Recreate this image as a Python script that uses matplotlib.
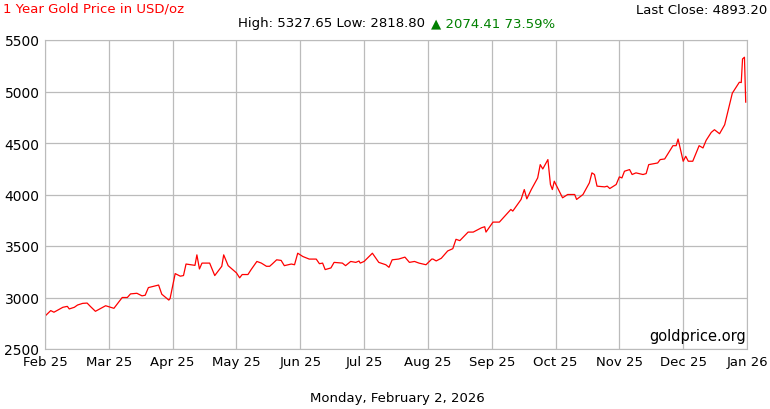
import matplotlib
matplotlib.use("Agg")
import matplotlib.pyplot as plt

months = [0.01,0.09,0.14,0.28,0.35,0.38,0.46,0.51,0.59,0.66,0.71,0.79,0.95,1.08,1.21,1.29,1.34,1.44,1.52,1.57,1.62,1.78,1.83,1.94,1.96,2.04,2.12,2.17,2.21,2.35,2.38,2.42,2.46,2.58,2.66,2.77,2.80,2.87,3.00,3.05,3.09,3.18,3.23,3.32,3.39,3.47,3.52,3.56,3.63,3.70,3.75,3.86,3.91,3.96,4.04,4.14,4.25,4.30,4.35,4.39,4.48,4.53,4.66,4.71,4.79,4.87,4.92,4.94,5.00,5.13,5.23,5.34,5.39,5.44,5.54,5.64,5.71,5.79,5.86,5.97,6.06,6.08,
          6.13,6.21,6.31,6.39,6.44,6.50,6.63,6.71,6.84,6.89,6.91,7.02,7.12,7.30,7.33,7.46,7.51,7.55,7.62,7.72,7.76,7.80,7.88,7.92,7.95,7.98,8.11,8.19,8.30,8.33,8.43,8.53,8.57,8.61,8.65,8.77,8.81,8.85,8.95,9.00,9.04,9.08,9.16,9.20,9.26,9.37,9.42,9.46,9.60,9.64,9.71,9.84,9.89,9.92,10.00,10.04,10.08,10.15,10.25,10.31,10.36,10.44,10.49,10.57,10.65,10.77,10.88,10.91,10.93,10.96,10.98]
prices = [2825,2873,2857,2905,2914,2889,2905,2927,2943,2946,2914,2866,2920,2895,3000,3000,3035,3041,3016,3022,3096,3121,3032,2975,2990,3232,3207,3213,3325,3312,3414,3277,3334,3334,3213,3303,3414,3309,3239,3191,3223,3223,3271,3350,3334,3303,3303,3325,3366,3360,3309,3325,3318,3430,3398,3373,3373,3328,3334,3271,3287,3341,3334,3309,3350,3341,3354,3334,3350,3430,3341,3318,3293,3366,3373,3392,3341,3350,3334,3318,3373,3373,
          3355,3381,3452,3474,3565,3552,3635,3635,3677,3687,3635,3732,3732,3855,3839,3952,4048,3958,4048,4161,4290,4248,4339,4097,4048,4129,3968,4000,4000,3952,4000,4113,4210,4194,4081,4074,4081,4058,4097,4171,4161,4226,4242,4194,4210,4194,4203,4290,4306,4339,4345,4474,4474,4539,4323,4371,4323,4323,4474,4452,4526,4603,4629,4590,4677,4984,5090,5087,5316,5333,4897]
tick_labels = ["Feb 25","Mar 25","Apr 25","May 25","Jun 25","Jul 25","Aug 25","Sep 25","Oct 25","Nov 25","Dec 25","Jan 26"]
yticks = [2500,3000,3500,4000,4500,5000,5500]

fig = plt.figure(figsize=(7.7,4.1), dpi=100)
ax = fig.add_axes([45/770, 60/410, 702/770, 309/410])
ax.plot(months, prices, color="red", lw=0.9)
ax.set_xlim(0, 11)
ax.set_ylim(2500, 5500)
ax.set_xticks(range(len(tick_labels)))
ax.set_xticklabels(tick_labels, fontsize=9.5)
ax.set_yticks(yticks)
ax.set_yticklabels([str(v) for v in yticks], fontsize=10)
ax.grid(True, color="#bbbbbb", lw=0.9)
ax.tick_params(length=0, pad=4)
for s in ax.spines.values():
    s.set_color("#bbbbbb")
ax.text(0.998, 0.02, "goldprice.org", transform=ax.transAxes, ha="right", va="bottom", fontsize=10.5)
fig.text(3/770, 1-9/410, "1 Year Gold Price in USD/oz", color="red", fontsize=9.5, va="center")
fig.text(767/770, 1-10/410, "Last Close: 4893.20", ha="right", fontsize=9.5, va="center")
fig.text(429/770, 1-24/410, "High: 5327.65 Low: 2818.80 ", ha="right", fontsize=9.5, va="center")
fig.text(431/770, 1-24/410, "▲ 2074.41 73.59%", ha="left", color="green", fontsize=9.5, va="center")
fig.text(397/770, 1-399/410, "Monday, February 2, 2026", ha="center", fontsize=9.5, va="center")
fig.savefig("out.png", dpi=100)
